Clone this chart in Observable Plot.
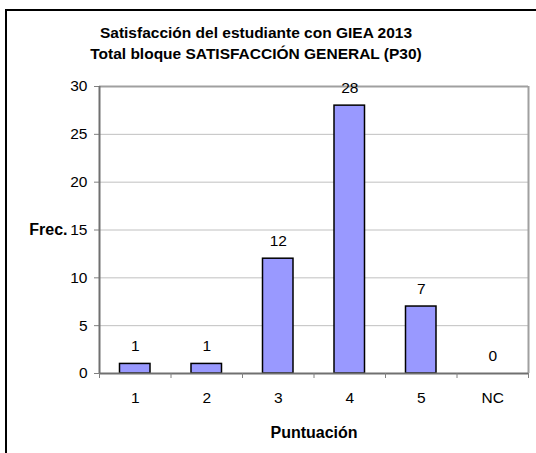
<!DOCTYPE html>
<html>
<head>
<meta charset="utf-8">
<script src="https://cdn.jsdelivr.net/npm/d3@7"></script>
<script src="https://cdn.jsdelivr.net/npm/@observablehq/plot@0.6"></script>
<style>
  html, body { margin: 0; padding: 0; background: #fff; width: 536px; height: 453px; overflow: hidden; }
  #wrap { position: relative; width: 536px; height: 453px; }
  #box { position: absolute; left: 5px; top: 9px; width: 600px; height: 500px; border: 2px solid #000; box-sizing: border-box; }
  #title { position: absolute; left: 6px; width: 500px; top: 22px; text-align: center;
           font-family: "Liberation Sans", Arial, sans-serif; font-weight: bold; font-size: 15.5px; line-height: 21px; color: #000; }
  #chart { position: absolute; left: 0; top: 0; }
</style>
</head>
<body>
<div id="wrap">
  <div id="box"></div>
  <div id="title">Satisfacción del estudiante con GIEA 2013<br>Total bloque SATISFACCIÓN GENERAL (P30)</div>
  <div id="chart"></div>
</div>
<script>
const categories = ["1", "2", "3", "4", "5", "NC"];
const values = [1, 1, 12, 28, 7, 0];
const yTicks = [0, 5, 10, 15, 20, 25, 30];
const xLabel = "Puntuación";
const yLabel = "Frec.";

const data = categories.map((c, i) => ({cat: c, i, value: values[i]}));

const chart = Plot.plot({
  width: 536,
  height: 453,
  marginLeft: 99,
  marginRight: 8,
  marginTop: 86,
  marginBottom: 80,
  style: {fontFamily: "'Liberation Sans', Arial, sans-serif", fontSize: "15.5px", background: "transparent", color: "#000"},
  x: {type: "linear", domain: [0, categories.length], axis: null},
  y: {domain: [0, 30], axis: null},
  marks: [
    Plot.ruleY(yTicks.filter(t => t > 0), {stroke: "#c0c0c0", strokeWidth: 1}),
    Plot.axisY({ticks: yTicks, tickSize: 5, tickPadding: 7, label: null, stroke: "#808080", fill: "#000", fontSize: 15.5}),
    Plot.ruleY([30], {stroke: "#a0a0a0", strokeWidth: 2}),
    Plot.ruleX([categories.length], {stroke: "#a0a0a0", strokeWidth: 2}),
    Plot.rectY(data, {x1: d => d.i, x2: d => d.i + 1, y1: 0, y2: "value", insetLeft: 20.5, insetRight: 20.5, fill: "#9999ff", stroke: "#000", strokeWidth: 1.5}),
    Plot.ruleX([0], {stroke: "#707070", strokeWidth: 2}),
    Plot.ruleY([0], {stroke: "#707070", strokeWidth: 2}),
    Plot.axisX({ticks: d3.range(categories.length + 1), tickSize: 5, tickFormat: () => "", stroke: "#808080", label: null}),
    Plot.text(data, {x: d => d.i + 0.5, y: "value", text: d => String(d.value), dy: -17.5, fontSize: 15.5, fill: "#000"}),
    Plot.text(data, {x: d => d.i + 0.5, y: 0, text: "cat", dy: 25, fontSize: 15.5, fill: "#000"}),
    Plot.text([xLabel], {frameAnchor: "bottom", dy: 64, fontSize: 16, fontWeight: "bold", fill: "#000"}),
    Plot.text([yLabel], {frameAnchor: "left", dx: -32, textAnchor: "end", fontSize: 16, fontWeight: "bold", fill: "#000"})
  ]
});
document.getElementById("chart").appendChild(chart);
</script>
</body>
</html>
